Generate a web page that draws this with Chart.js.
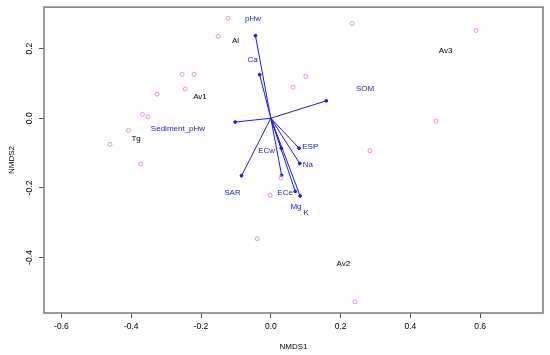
<!DOCTYPE html>
<html>
<head>
<meta charset="utf-8">
<script src="https://cdn.jsdelivr.net/npm/chart.js@4/dist/chart.umd.min.js"></script>
<style>
  html, body { margin: 0; padding: 0; background: #fff; }
  canvas { display: block; }
</style>
</head>
<body>
<canvas id="grafico" width="550" height="355"></canvas>
<script>
// site scores (NMDS1, NMDS2)
const siteX = [-0.122, -0.151, 0.233, 0.588, -0.254, -0.220, -0.245, -0.326, -0.368, -0.352, -0.408,
  -0.461, -0.373, 0.100, 0.064, 0.473, 0.284, -0.002, -0.039, 0.241, 0.029];
const siteY = [0.287, 0.235, 0.272, 0.252, 0.126, 0.126, 0.084, 0.069, 0.011, 0.004, -0.035,
  -0.075, -0.131, 0.120, 0.089, -0.008, -0.093, -0.221, -0.346, -0.527, -0.171];

// fitted environmental vectors
const vecNames = ["pHw", "Ca", "Sediment_pHw", "SOM", "ESP", "Na", "ECw", "SAR", "ECe", "Mg", "K"];
const vecX = [-0.044, -0.032, -0.102, 0.159, 0.081, 0.083, 0.030, -0.084, 0.031, 0.070, 0.084];
const vecY = [0.237, 0.125, -0.011, 0.050, -0.086, -0.130, -0.086, -0.165, -0.164, -0.210, -0.223];
const vecLabelX = [-0.051, -0.052, -0.266, 0.270, 0.113, 0.106, -0.012, -0.110, 0.041, 0.072, 0.101];
const vecLabelY = [0.286, 0.169, -0.029, 0.084, -0.081, -0.134, -0.093, -0.214, -0.213, -0.255, -0.271];

// group labels
const groupNames = ["Al", "Av1", "Av3", "Tg", "Av2"];
const groupX = [-0.101, -0.203, 0.501, -0.386, 0.208];
const groupY = [0.223, 0.062, 0.194, -0.060, -0.418];

const xTicks = [-0.6, -0.4, -0.2, 0.0, 0.2, 0.4, 0.6];
const yTicks = [-0.4, -0.2, 0.0, 0.2];

const corPonto = "#e690e6";
const corVetor = "#1c1ce0";
const corEixo = "#7a7a7a";
const fonte = "'Liberation Sans', Arial, Helvetica, sans-serif";

const datasets = [
  {
    label: "sites",
    data: siteX.map((x, i) => ({ x: x, y: siteY[i] })),
    pointRadius: 2,
    pointBorderWidth: 1,
    pointBorderColor: corPonto,
    pointBackgroundColor: "rgba(0,0,0,0)",
    showLine: false
  }
];

vecNames.forEach((nome, i) => {
  datasets.push({
    label: nome,
    data: [{ x: 0, y: 0 }, { x: vecX[i], y: vecY[i] }],
    showLine: true,
    borderColor: corVetor,
    borderWidth: 1,
    pointRadius: [0, 1.4],
    pointBackgroundColor: corVetor,
    pointBorderColor: corVetor
  });
});

const rotulosPlugin = {
  id: "rotulos",
  afterDatasetsDraw(chart) {
    const ctx = chart.ctx;
    const sx = chart.scales.x;
    const sy = chart.scales.y;
    const area = chart.chartArea;
    ctx.save();
    ctx.font = "8px " + fonte;
    ctx.textAlign = "center";
    ctx.textBaseline = "middle";
    ctx.fillStyle = corVetor;
    vecNames.forEach((nome, i) => {
      ctx.fillText(nome, sx.getPixelForValue(vecLabelX[i]), sy.getPixelForValue(vecLabelY[i]));
    });
    ctx.fillStyle = "#000";
    groupNames.forEach((nome, i) => {
      ctx.fillText(nome, sx.getPixelForValue(groupX[i]), sy.getPixelForValue(groupY[i]));
    });
    // box
    ctx.strokeStyle = corEixo;
    ctx.lineWidth = 1.5;
    ctx.strokeRect(area.left, area.top, area.right - area.left, area.bottom - area.top);
    ctx.restore();
  }
};

new Chart(document.getElementById("grafico"), {
  type: "scatter",
  data: { datasets: datasets },
  plugins: [rotulosPlugin],
  options: {
    responsive: false,
    animation: false,
    devicePixelRatio: 1,
    layout: { padding: { top: 6, right: 7, left: 0, bottom: 0 } },
    plugins: {
      legend: { display: false },
      tooltip: { enabled: false }
    },
    scales: {
      x: {
        type: "linear",
        min: -0.65,
        max: 0.78,
        afterBuildTicks: (scale) => { scale.ticks = xTicks.map((v) => ({ value: v })); },
        afterFit: (scale) => { scale.height = 42; },
        grid: { drawOnChartArea: false, drawTicks: true, tickLength: 5, color: "#555" },
        border: { display: false },
        ticks: {
          font: { size: 8.5, family: fonte },
          color: "#000",
          padding: 4,
          maxRotation: 0,
          callback: (v) => v.toFixed(1)
        },
        title: {
          display: true,
          text: "NMDS1",
          color: "#000",
          font: { size: 8, family: fonte },
          padding: { top: 0, bottom: 3 }
        }
      },
      y: {
        type: "linear",
        min: -0.559,
        max: 0.319,
        afterBuildTicks: (scale) => { scale.ticks = yTicks.map((v) => ({ value: v })); },
        afterFit: (scale) => { scale.width = 44; },
        grid: { drawOnChartArea: false, drawTicks: true, tickLength: 5, color: "#555" },
        border: { display: false },
        ticks: {
          font: { size: 8.5, family: fonte },
          color: "#000",
          padding: 2,
          crossAlign: "center",
          minRotation: 90,
          maxRotation: 90,
          callback: (v) => v.toFixed(1)
        },
        title: {
          display: true,
          text: "NMDS2",
          color: "#000",
          font: { size: 8, family: fonte },
          padding: { top: 7, bottom: 0 }
        }
      }
    }
  }
});
</script>
</body>
</html>
